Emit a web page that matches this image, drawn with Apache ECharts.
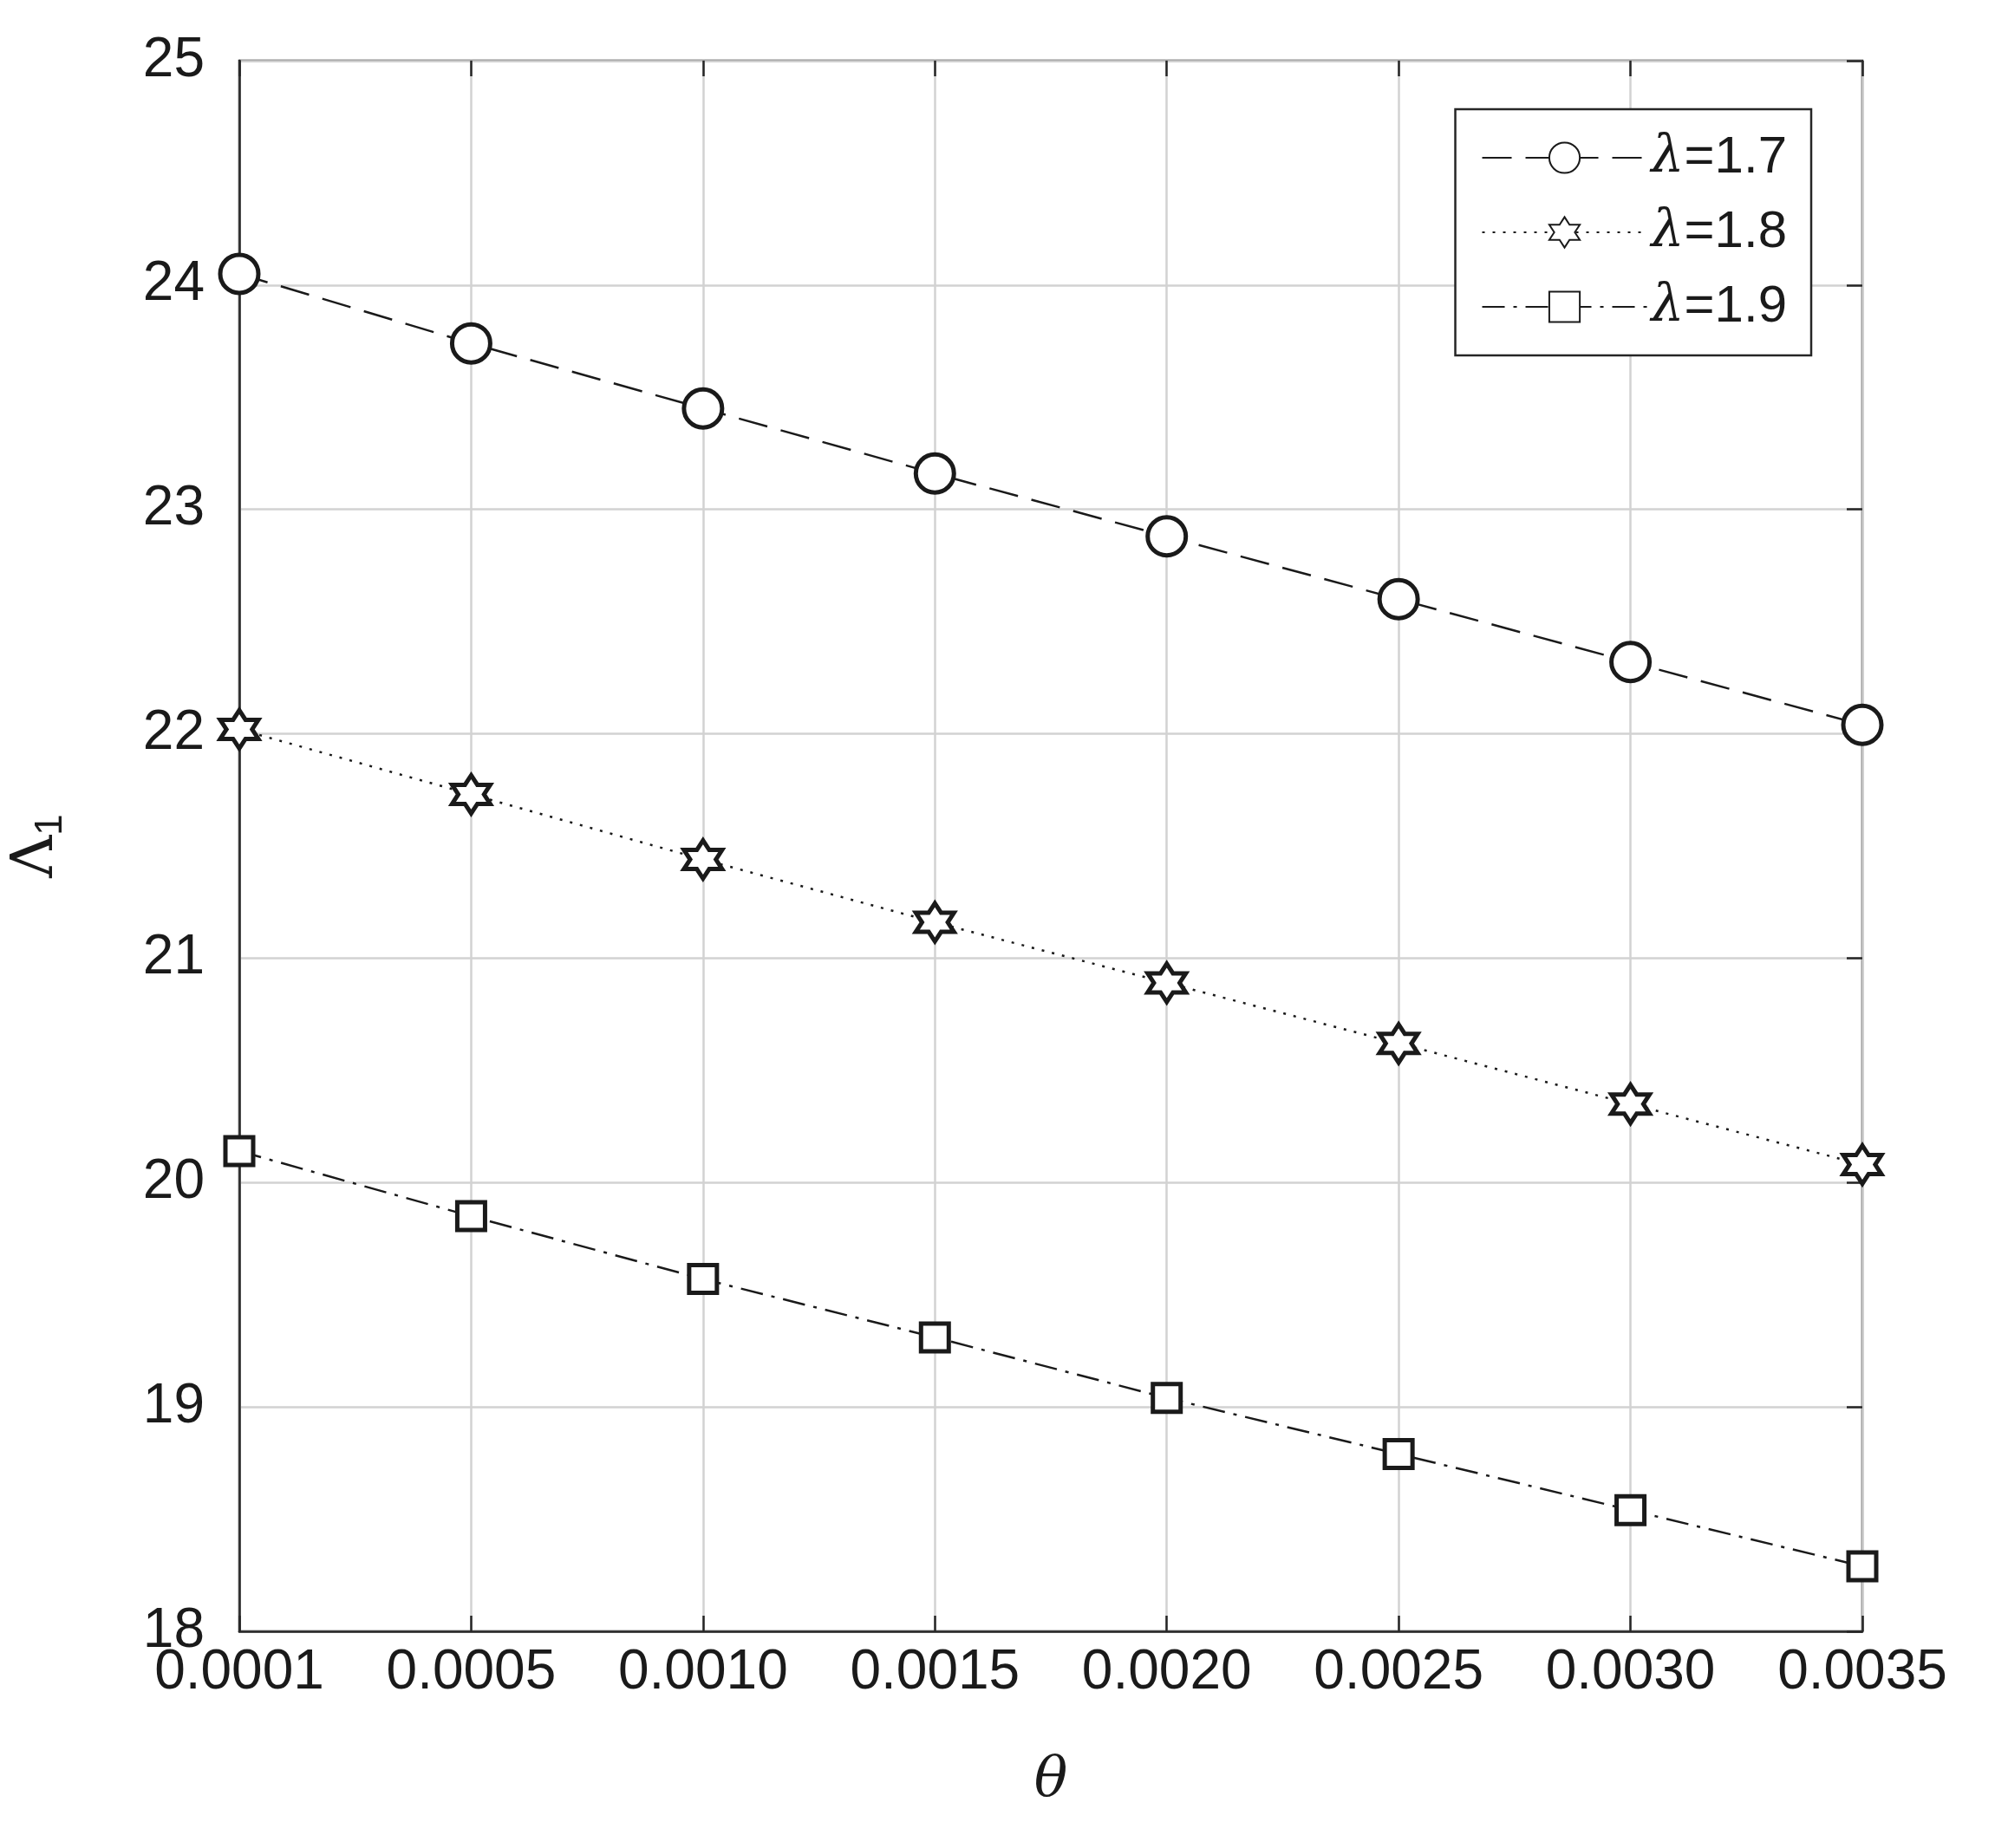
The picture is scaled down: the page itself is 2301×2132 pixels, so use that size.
<!DOCTYPE html>
<html><head><meta charset="utf-8">
<script src="https://cdn.jsdelivr.net/npm/echarts@6/dist/echarts.min.js"></script>
<style>html,body{margin:0;background:#fff}#main{width:2301px;height:2132px}</style>
</head><body><div id="main"></div>
<script>
var thetaLabels = ['0.0001', '0.0005', '0.0010', '0.0015', '0.0020', '0.0025', '0.0030', '0.0035'];
var lam17 = [24.05, 23.74, 23.45, 23.16, 22.88, 22.60, 22.32, 22.04];
var lam18 = [22.02, 21.73, 21.44, 21.16, 20.89, 20.62, 20.35, 20.08];
var lam19 = [20.14, 19.85, 19.57, 19.31, 19.04, 18.79, 18.54, 18.29];

var star = 'path://M50,0 L64,25 L93,25 L79,50 L93,75 L64,75 L50,100 L36,75 L7,75 L21,50 L7,25 L36,25 Z';
var font = 'Liberation Sans';
var black = '#1a1a1a';

function mk(name, data, sym, size, type) {
    return {
        name: name, type: 'line', data: data, symbol: sym, symbolSize: size,
        itemStyle: {color: '#fff', borderColor: black, borderWidth: 5},
        lineStyle: {color: black, width: 2.5, type: type},
        emphasis: {disabled: true}
    };
}

var chart = echarts.init(document.getElementById('main'));
chart.setOption({
    animation: false,
    backgroundColor: '#fff',
    grid: {left: 267, right: 153, top: 70, bottom: 250, show: true, borderColor: '#262626', borderWidth: 2.5},
    legend: {
        right: 212, top: 126, orient: 'vertical', itemWidth: 190, itemHeight: 44, itemGap: 26,
        padding: [26, 28, 26, 30], backgroundColor: '#fff', borderColor: '#262626', borderWidth: 2.5,
        align: 'left',
        formatter: function (n) {
            return '{i|λ}{t|=' + n + '}';
        },
        textStyle: {
            rich: {
                i: {fontFamily: 'DejaVu Serif', fontStyle: 'italic', fontSize: 60, color: black},
                t: {fontFamily: font, fontSize: 60, color: black}
            }
        },
        data: ['1.7', '1.8', '1.9']
    },
    xAxis: [{
        type: 'category', data: thetaLabels, boundaryGap: false,
        name: 'θ', nameLocation: 'middle', nameGap: 140,
        nameTextStyle: {fontFamily: 'DejaVu Serif', fontStyle: 'italic', fontSize: 64, color: black},
        axisLine: {lineStyle: {color: '#262626', width: 2.5}},
        axisTick: {inside: true, length: 18, lineStyle: {color: '#262626', width: 2.5}},
        axisLabel: {fontFamily: font, fontSize: 64, color: black, margin: 16},
        splitLine: {show: true, lineStyle: {color: '#d2d2d2', width: 2.5}}
    }, {
        type: 'category', data: thetaLabels, boundaryGap: false, position: 'top',
        axisLine: {show: false}, axisLabel: {show: false},
        axisTick: {inside: true, length: 18, lineStyle: {color: '#262626', width: 2.5}}
    }],
    yAxis: [{
        type: 'value', min: 18, max: 25, interval: 1,
        name: '{a|Λ}{s|1}', nameLocation: 'middle', nameGap: 195, nameRotate: 90,
        nameTextStyle: {rich: {
            a: {fontFamily: 'DejaVu Serif', fontSize: 68, color: black},
            s: {fontFamily: font, fontSize: 44, color: black, verticalAlign: 'bottom', padding: [34, 0, 0, 0]}
        }},
        axisLine: {show: true, lineStyle: {color: '#262626', width: 2.5}},
        axisTick: {inside: true, length: 18, lineStyle: {color: '#262626', width: 2.5}},
        axisLabel: {fontFamily: font, fontSize: 64, color: black, margin: 40},
        splitLine: {show: true, lineStyle: {color: '#d2d2d2', width: 2.5}}
    }, {
        type: 'value', min: 18, max: 25, interval: 1, position: 'right',
        axisLine: {show: false}, axisLabel: {show: false}, splitLine: {show: false},
        axisTick: {show: true, inside: true, length: 18, lineStyle: {color: '#262626', width: 2.5}}
    }],
    series: [
        mk('1.7', lam17, 'circle', 44, [34, 16]),
        mk('1.8', lam18, star, 44, [3, 9]),
        mk('1.9', lam19, 'rect', 32, [26, 10, 4, 10])
    ]
});
</script>
</body></html>
